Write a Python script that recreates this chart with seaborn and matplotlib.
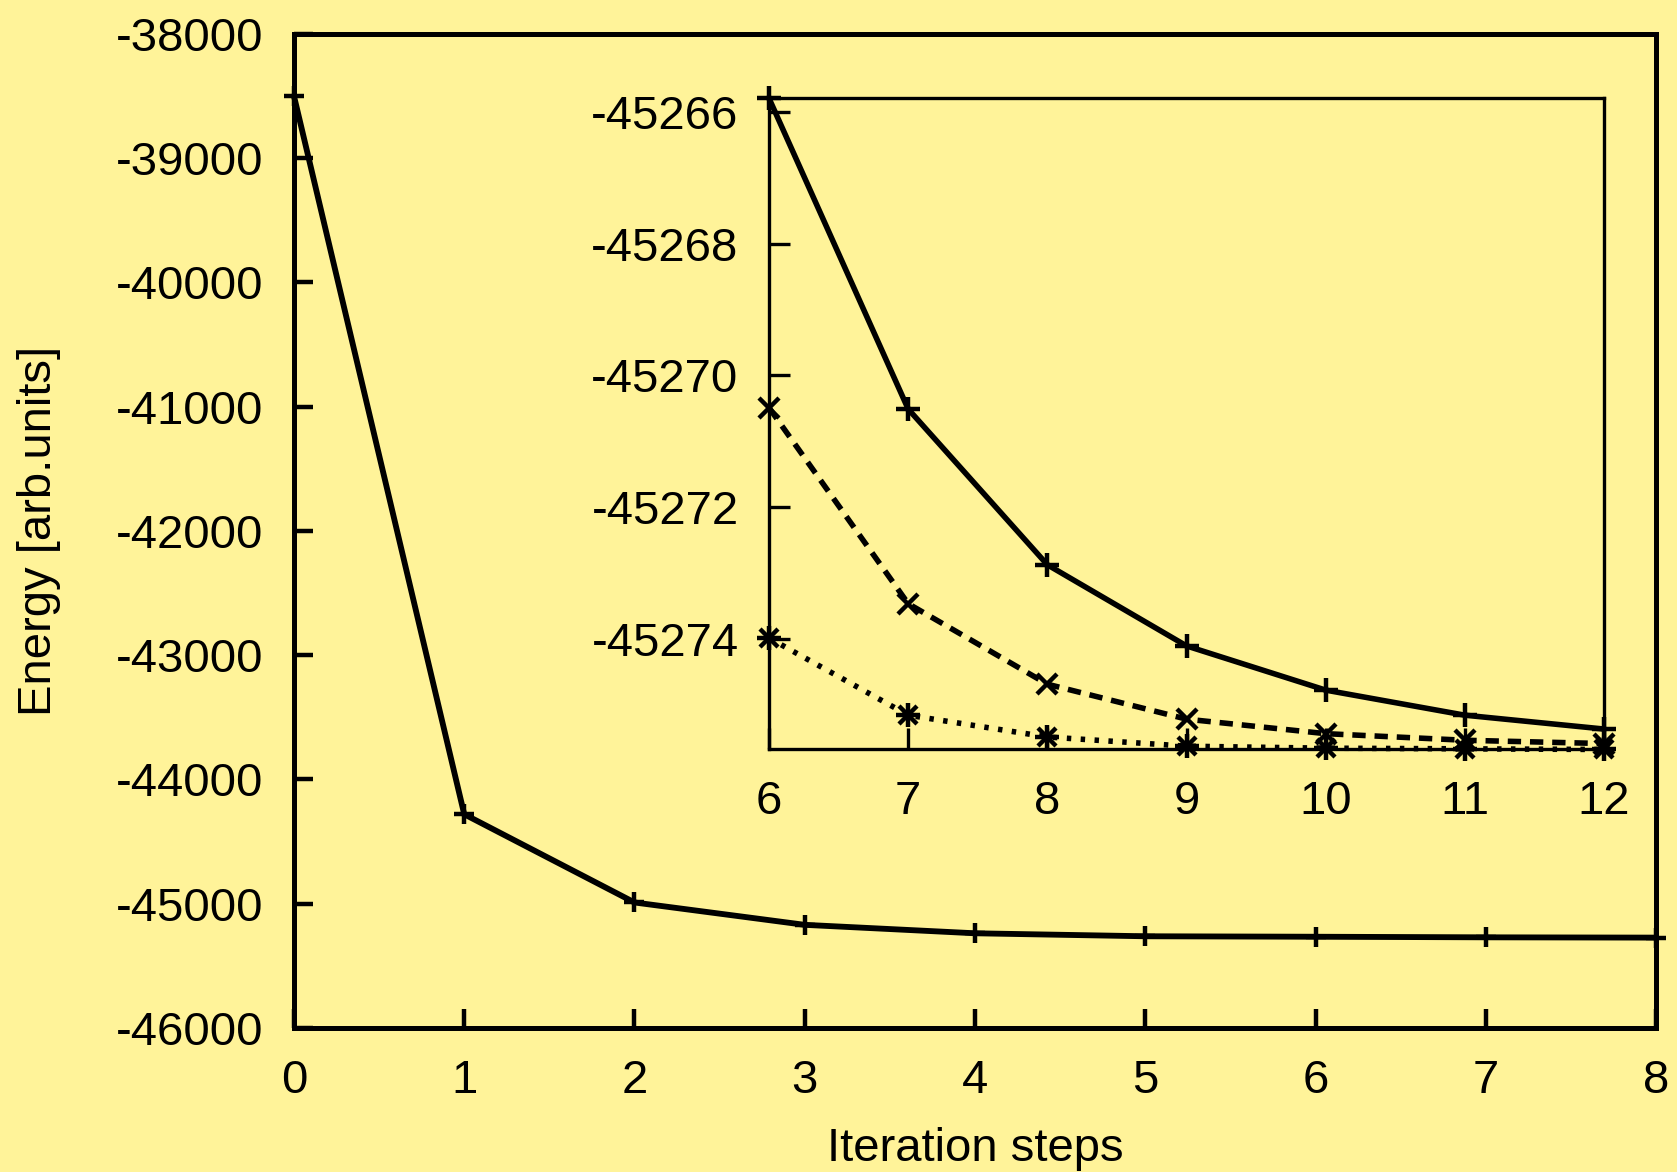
import matplotlib
matplotlib.use('Agg')
import matplotlib.pyplot as plt
import seaborn as sns

# main curve: energy per iteration step
steps = [0, 1, 2, 3, 4, 5, 6, 7, 8]
energy = [-38500, -44280, -44990, -45170, -45238, -45262, -45265.8, -45270.5, -45272.87]

# inset: three convergence runs, steps 6..12
inset_steps = [6, 7, 8, 9, 10, 11, 12]
run_a = [-45265.80, -45270.51, -45272.87, -45274.10, -45274.77, -45275.15, -45275.36]
run_b = [-45270.49, -45273.46, -45274.68, -45275.21, -45275.43, -45275.53, -45275.58]
run_c = [-45273.98, -45275.15, -45275.48, -45275.62, -45275.65, -45275.66, -45275.67]

main_yticks = list(range(-46000, -37999, 1000))
inset_yticks = [-45274, -45272, -45270, -45268, -45266]

bg = '#fff399'
sns.set_theme(style='white')
plt.rcParams['font.family'] = ['Liberation Sans', 'DejaVu Sans']
plt.rcParams['font.size'] = 34

fig = plt.figure(figsize=(16.77, 11.72), dpi=100, facecolor=bg)

# main axes
ax = fig.add_axes([0.1753, 0.1229, 0.8122, 0.8481], facecolor=bg)
sns.lineplot(x=steps, y=energy, ax=ax, color='black', linewidth=4.2, marker='+',
             markersize=15, mew=3.2, mec='black', clip_on=False, zorder=5)
ax.set_xlim(0, 8)
ax.set_ylim(-46000, -38000)
ax.set_xticks(steps)
ax.set_yticks(main_yticks)
ax.set_yticklabels([str(v) for v in main_yticks])
for s in ax.spines.values():
    s.set_linewidth(3.6)
    s.set_color('black')
ax.tick_params(direction='in', length=14, width=3.2, color='black',
               labelsize=34, labelcolor='black', pad=22,
               top=False, right=False, left=True, bottom=True)
ax.set_xlabel('Iteration steps', fontsize=34, color='black')
ax.set_ylabel('Energy [arb.units]', fontsize=34, color='black')
ax.xaxis.set_label_coords(0.5, -0.1)
ax.yaxis.set_label_coords(-0.171, 0.5)

# inset axes
ins = fig.add_axes([0.4586, 0.3605, 0.4979, 0.5555], facecolor=bg)
sns.lineplot(x=inset_steps, y=run_a, ax=ins, color='black', linewidth=4.0, marker='+',
             markersize=17, mew=3.2, mec='black', clip_on=False, zorder=5)
sns.lineplot(x=inset_steps, y=run_b, ax=ins, color='black', linewidth=4.0, marker='x',
             markersize=15, mew=3.2, mec='black', clip_on=False, zorder=5)
ins.lines[-1].set_linestyle((0, (2.4, 1.6)))
sns.lineplot(x=inset_steps, y=run_c, ax=ins, color='black', linewidth=4.0, marker='+',
             markersize=17, mew=3.2, mec='black', clip_on=False, zorder=5)
ins.lines[-1].set_linestyle((0, (0.8, 1.7)))
sns.lineplot(x=inset_steps, y=run_c, ax=ins, color='black', linewidth=0, marker='x',
             markersize=13, mew=3.2, mec='black', clip_on=False, zorder=5)
ins.set_xlim(6, 12)
ins.set_ylim(-45275.67, -45265.80)
ins.set_xticks(inset_steps)
ins.set_yticks(inset_yticks)
ins.set_yticklabels([str(v) for v in inset_yticks])
for s in ins.spines.values():
    s.set_linewidth(2.4)
    s.set_color('black')
ins.tick_params(direction='in', length=15, width=2.4, color='black',
                labelsize=34, labelcolor='black', pad=22,
                top=False, right=False, left=True, bottom=True)
ins.set_xlabel('')
ins.set_ylabel('')

fig.savefig('out.png', dpi=100, facecolor=bg)
